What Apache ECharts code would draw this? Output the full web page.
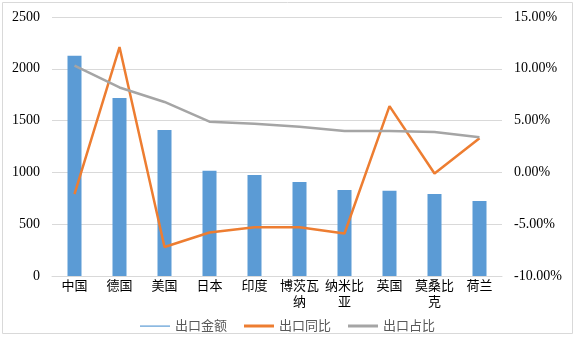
<!DOCTYPE html>
<html>
<head>
<meta charset="utf-8">
<script src="https://cdn.jsdelivr.net/npm/echarts@6/dist/echarts.min.js"></script>
<style>
  html, body { margin: 0; padding: 0; background: #fff; }
  #chart { width: 575px; height: 340px; }
</style>
</head>
<body>
<div id="chart"></div>
<script>
// 数据
var countries = ['中国', '德国', '美国', '日本', '印度', '博茨瓦纳', '纳米比亚', '英国', '莫桑比克', '荷兰'];
var exportAmount = [2125, 1718, 1410, 1015, 975, 908, 830, 822, 792, 725];
var exportYoY = [-2.1, 12.1, -7.2, -5.8, -5.3, -5.3, -5.9, 6.4, -0.1, 3.3];
var exportShare = [10.3, 8.2, 6.8, 4.9, 4.7, 4.4, 4.0, 4.0, 3.9, 3.4];

var chart = echarts.init(document.getElementById('chart'));
var serif = '"Liberation Serif", "Times New Roman", serif';
var cjk = '"Noto Sans CJK SC", sans-serif';

var option = {
  animation: false,
  graphic: [{
    type: 'rect',
    shape: { x: 2.5, y: 2.5, width: 570, height: 331 },
    style: { fill: 'none', stroke: '#D9D9D9', lineWidth: 1 },
    silent: true
  }],
  grid: { left: 52, right: 73, top: 17, bottom: 64 },
  legend: {
    top: 314,
    left: 'center',
    itemWidth: 30,
    itemHeight: 10,
    itemGap: 17,
    textStyle: { color: '#595959', fontSize: 13, fontFamily: cjk },
    data: [
      { name: '出口金额', icon: 'path://M0,0 M0,5 L30,5 L30,6.2 L0,6.2 Z M30,10' },
      { name: '出口同比', icon: 'path://M0,0 M0,4 L30,4 L30,7 L0,7 Z M30,10' },
      { name: '出口占比', icon: 'path://M0,0 M0,4 L30,4 L30,7 L0,7 Z M30,10' }
    ]
  },
  xAxis: {
    type: 'category',
    data: countries,
    axisTick: { show: false },
    axisLine: { lineStyle: { color: '#D9D9D9' } },
    axisLabel: {
      color: '#000',
      fontSize: 13,
      fontFamily: cjk,
      lineHeight: 16,
      margin: 1,
      interval: 0,
      formatter: function (v) {
        return v.length > 3 ? v.slice(0, 3) + '\n' + v.slice(3) : v;
      }
    }
  },
  yAxis: [{
    type: 'value',
    min: 0, max: 2500, interval: 500,
    axisLine: { show: false },
    axisTick: { show: false },
    splitLine: { lineStyle: { color: '#D9D9D9' } },
    axisLabel: {
      color: '#000', fontSize: 14, fontFamily: serif, margin: 12,
      formatter: function (v) { return String(v); }
    }
  }, {
    type: 'value',
    min: -10, max: 15, interval: 5,
    axisLine: { show: false },
    axisTick: { show: false },
    splitLine: { show: false },
    axisLabel: {
      color: '#000', fontSize: 14, fontFamily: serif, margin: 12,
      formatter: function (v) { return v.toFixed(2) + '%'; }
    }
  }],
  series: [{
    name: '出口金额',
    type: 'bar',
    data: exportAmount,
    barWidth: 14,
    itemStyle: { color: '#5B9BD5' }
  }, {
    name: '出口同比',
    type: 'line',
    yAxisIndex: 1,
    data: exportYoY,
    symbol: 'none',
    lineStyle: { color: '#ED7D31', width: 2.5 },
    itemStyle: { color: '#ED7D31' }
  }, {
    name: '出口占比',
    type: 'line',
    yAxisIndex: 1,
    data: exportShare,
    symbol: 'none',
    lineStyle: { color: '#A5A5A5', width: 2.5 },
    itemStyle: { color: '#A5A5A5' }
  }]
};
chart.setOption(option);
</script>
</body>
</html>
